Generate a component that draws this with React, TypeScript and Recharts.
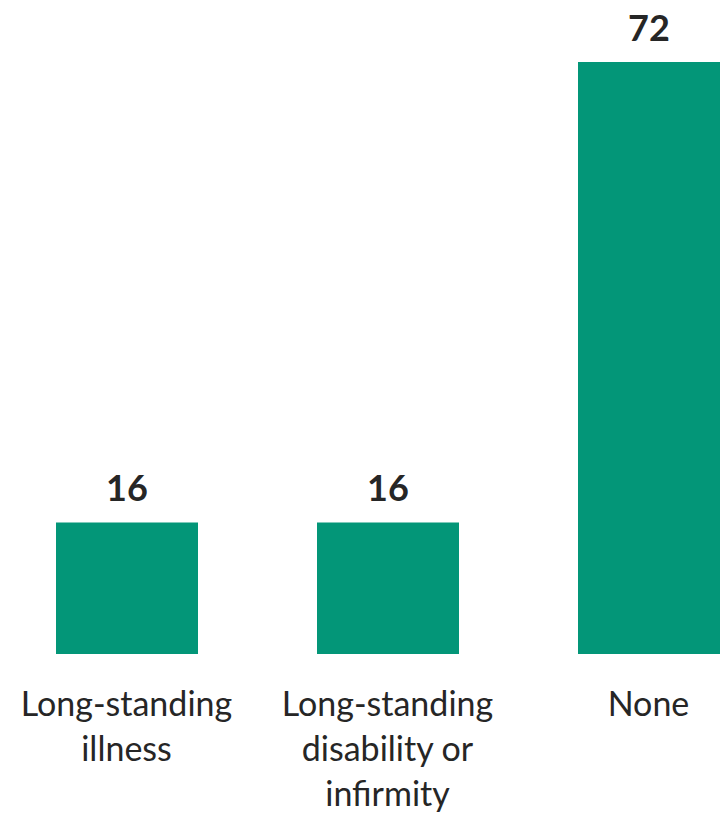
import { BarChart, Bar, XAxis, YAxis, LabelList } from 'recharts';

const categories = ['Long-standing illness', 'Long-standing disability or infirmity', 'None'];
const tickLines = [
  ['Long-standing', 'illness'],
  ['Long-standing', 'disability or', 'infirmity'],
  ['None'],
];
const values = [16, 16, 72];

const data = categories.map((name, i) => ({ name, value: values[i] }));

const FONT = 'Lato, "Open Sans", sans-serif';

const CategoryTick = (props: any) => {
  const { x, y, index } = props;
  const lines = tickLines[index] || [];
  return (
    <text x={x} y={y} textAnchor="middle" fill="#262626" fontSize={34} fontFamily={FONT}>
      {lines.map((line, i) => (
        <tspan key={i} x={x} y={y + 54 + i * 45}>
          {line}
        </tspan>
      ))}
    </text>
  );
};

export default function App() {
  return (
    <div style={{ position: 'absolute', left: 0, top: 0, width: 720, height: 813, overflow: 'hidden', background: '#fff' }}>
      <div style={{ position: 'absolute', left: -4, top: 0 }}>
        <BarChart
          width={783}
          height={813}
          data={data}
          margin={{ top: 62, right: 0, bottom: 0, left: 0 }}
          barSize={142}
        >
          <XAxis
            dataKey="name"
            axisLine={false}
            tickLine={false}
            interval={0}
            height={159}
            tick={<CategoryTick />}
          />
          <YAxis hide domain={[0, 72]} />
          <Bar dataKey="value" fill="#039678" isAnimationActive={false}>
            <LabelList
              dataKey="value"
              position="top"
              offset={21}
              fill="#262626"
              fontSize={36}
              fontWeight="bold"
              fontFamily={FONT}
            />
          </Bar>
        </BarChart>
      </div>
    </div>
  );
}
